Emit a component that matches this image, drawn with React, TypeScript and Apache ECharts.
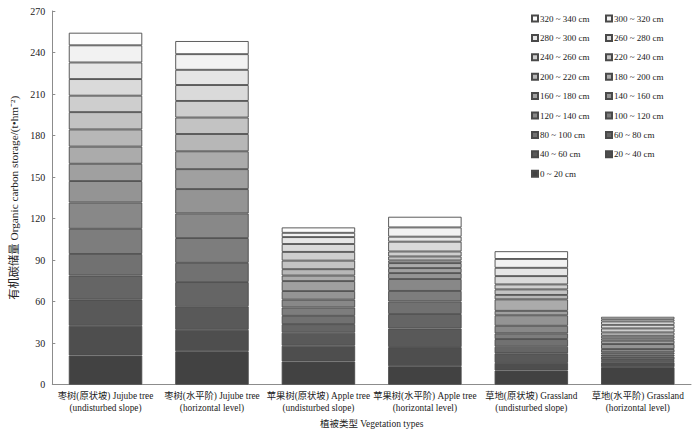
import React, { useEffect, useRef } from "react";
import * as echarts from "echarts";

const categories = [
  "枣树(原状坡) Jujube tree\n(undisturbed slope)",
  "枣树(水平阶) Jujube tree\n(horizontal level)",
  "苹果树(原状坡) Apple tree\n(undisturbed slope)",
  "苹果树(水平阶) Apple tree\n(horizontal level)",
  "草地(原状坡) Grassland\n(undisturbed slope)",
  "草地(水平阶) Grassland\n(horizontal level)",
];

const layers = [
  "0 ~ 20 cm", "20 ~ 40 cm", "40 ~ 60 cm", "60 ~ 80 cm", "80 ~ 100 cm",
  "100 ~ 120 cm", "120 ~ 140 cm", "140 ~ 160 cm", "160 ~ 180 cm", "180 ~ 200 cm",
  "200 ~ 220 cm", "220 ~ 240 cm", "240 ~ 260 cm", "260 ~ 280 cm", "280 ~ 300 cm",
  "300 ~ 320 cm", "320 ~ 340 cm",
];

// values per vegetation type, from 0~20 cm up to 320~340 cm
const jujubeSlope = [21.0, 21.5, 18.9, 17.4, 15.6, 18.2, 19.0, 15.5, 12.5, 12.4, 12.4, 12.5, 11.9, 12.0, 12.0, 12.4, 9.1];
const jujubeLevel = [24.1, 15.5, 17.0, 17.5, 13.9, 17.9, 17.8, 17.6, 14.4, 12.9, 12.5, 11.9, 12.0, 11.5, 11.0, 11.3, 9.5];
const appleSlope = [16.7, 11.4, 9.4, 6.2, 6.0, 6.0, 5.7, 6.2, 7.2, 4.0, 4.6, 6.2, 6.3, 5.7, 5.0, 3.1, 3.9];
const appleLevel = [13.3, 13.8, 13.4, 10.5, 9.1, 7.6, 8.6, 4.3, 3.6, 3.6, 1.9, 2.9, 3.6, 7.1, 3.6, 6.7, 7.7];
const grassSlope = [10.2, 5.5, 6.9, 4.8, 5.5, 4.1, 5.5, 7.6, 3.2, 8.3, 3.2, 4.0, 3.6, 6.0, 6.0, 6.4, 5.6];
const grassLevel = [12.6, 3.6, 1.6, 2.4, 1.5, 1.6, 2.4, 3.6, 2.4, 1.7, 1.9, 2.4, 2.9, 2.6, 2.4, 1.6, 1.8];

const legendCol1 = ["320 ~ 340 cm", "280 ~ 300 cm", "240 ~ 260 cm", "200 ~ 220 cm", "160 ~ 180 cm", "120 ~ 140 cm", "80 ~ 100 cm", "40 ~ 60 cm", "0 ~ 20 cm"];
const legendCol2 = ["300 ~ 320 cm", "260 ~ 280 cm", "220 ~ 240 cm", "180 ~ 200 cm", "140 ~ 160 cm", "100 ~ 120 cm", "60 ~ 80 cm", "20 ~ 40 cm"];

const FONT = "'Liberation Serif', 'Times New Roman', 'Noto Sans CJK SC', serif";

function grayFor(i: number): string {
  const v = Math.round(66 + i * 11.7);
  const h = v.toString(16).padStart(2, "0");
  return "#" + h + h + h;
}

export default function App() {
  const ref = useRef<HTMLDivElement>(null);
  useEffect(() => {
    if (!ref.current) return;
    const chart = echarts.init(ref.current, undefined, { renderer: "svg" });
    const all = [jujubeSlope, jujubeLevel, appleSlope, appleLevel, grassSlope, grassLevel];
    const series = layers.map((name, i) => ({
      name,
      type: "bar",
      stack: "total",
      barCategoryGap: "31%",
      data: all.map((arr) => arr[i]),
      itemStyle: { color: grayFor(i), borderColor: "#4a4a4a", borderWidth: 0.9 },
    }));
    const legendCommon = {
      orient: "vertical",
      itemWidth: 6,
      itemHeight: 6,
      itemGap: 10.4,
      icon: "rect",
      textStyle: { fontFamily: FONT, fontSize: 9, color: "#222", padding: [0, 0, 0, -3] },
    };
    chart.setOption({
      animation: false,
      backgroundColor: "#fff",
      grid: { left: 49, right: 9, top: 11, bottom: 47 },
      legend: [
        { ...legendCommon, data: legendCol1, left: 526, top: 9 },
        { ...legendCommon, data: legendCol2, left: 600, top: 9 },
      ],
      xAxis: {
        type: "category",
        data: categories,
        name: "植被类型 Vegetation types",
        nameLocation: "middle",
        nameGap: 31,
        nameTextStyle: { fontFamily: FONT, fontSize: 9.5, color: "#222" },
        axisLine: { lineStyle: { color: "#8c8c8c" } },
        axisTick: { show: false },
        axisLabel: { fontFamily: FONT, fontSize: 9.3, color: "#222", lineHeight: 12.5, margin: 5, interval: 0 },
      },
      yAxis: {
        type: "value",
        min: 0,
        max: 270,
        interval: 30,
        name: "有机碳储量 Organic carbon storage/(t•hm⁻²)",
        nameLocation: "middle",
        nameGap: 33,
        nameTextStyle: { fontFamily: FONT, fontSize: 11.3, color: "#222" },
        axisLine: { show: true, lineStyle: { color: "#8c8c8c" } },
        axisTick: { show: true, inside: true, length: 3, lineStyle: { color: "#8c8c8c" } },
        splitLine: { show: false },
        axisLabel: { fontFamily: FONT, fontSize: 10, color: "#222", margin: 7 },
      },
      series,
    });
    return () => chart.dispose();
  }, []);
  return <div ref={ref} style={{ width: 700, height: 434, position: "absolute", left: 0, top: 0 }} />;
}
